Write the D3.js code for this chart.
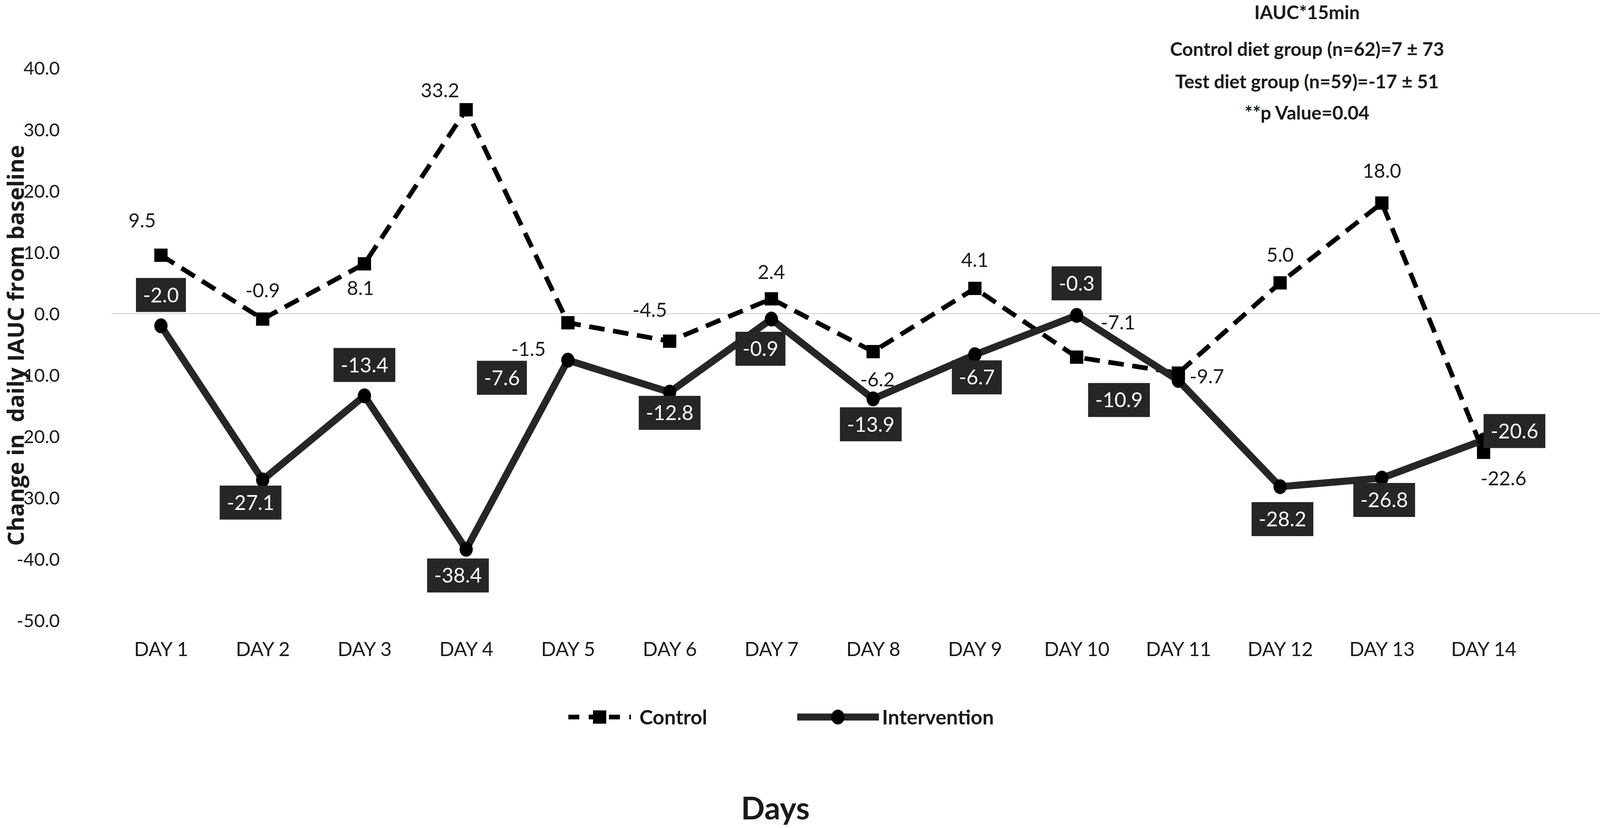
<!DOCTYPE html>
<html>
<head>
<meta charset="utf-8">
<script src="https://cdn.jsdelivr.net/npm/d3@7"></script>
<style>
  html, body { margin: 0; padding: 0; background: #fff; }
  svg { display: block; }
</style>
</head>
<body>
<svg id="chart" width="4200" height="2119"></svg>
<script>
// ---------- data ----------
const days = ["DAY 1","DAY 2","DAY 3","DAY 4","DAY 5","DAY 6","DAY 7","DAY 8","DAY 9","DAY 10","DAY 11","DAY 12","DAY 13","DAY 14"];
const controlValues = [9.5, -0.9, 8.1, 33.2, -1.5, -4.5, 2.4, -6.2, 4.1, -7.1, -9.7, 5.0, 18.0, -22.6];
const interventionValues = [-2.0, -27.1, -13.4, -38.4, -7.6, -12.8, -0.9, -13.9, -6.7, -0.3, -10.9, -28.2, -26.8, -20.6];
const yTickValues = [40, 30, 20, 10, 0, -10, -20, -30, -40, -50];
const seriesNames = ["Control", "Intervention"];
const yAxisTitle = "Change in\u00a0 daily IAUC from baseline";
const xAxisTitle = "Days";
const annotationLines = ["IAUC*15min", "Control diet group (n=62)=7 \u00b1 73", "Test diet group (n=59)=-17 \u00b1 51", "**p Value=0.04"];

// ---------- layout (label placement offsets, px) ----------
const controlLabelOffsets = [[-48,-89],[0,-74],[-10,62],[-67,-50],[-101,67],[-51,-80],[0,-69],[11,71],[0,-73],[106,-89],[73,8],[0,-72],[0,-83],[51,66]];
const interventionLabelOffsets = [[0,-79],[-31,58],[0,-79],[-21,67],[-169,45],[0,53],[-28,76],[-6,65],[5,58],[0,-82],[-152,50],[6,83],[6,56],[79,-23]];

const FONT = "Lato, 'Liberation Sans', sans-serif";
const TEXT = "#1a1a1a";
const DARK = "#262626";

const svg = d3.select("#chart");
svg.append("rect").attr("width", 4200).attr("height", 2119).attr("fill", "#fff");

const x = d3.scalePoint().domain(days).range([412, 3798]);
const y = d3.scaleLinear().domain([-50, 40]).range([1588, 174]);

// zero gridline
svg.append("line")
  .attr("x1", 286).attr("x2", 4190)
  .attr("y1", y(0)).attr("y2", y(0))
  .attr("stroke", "#d9d9d9").attr("stroke-width", 3);

// y axis
const yAxis = svg.append("g")
  .attr("transform", "translate(153,0)")
  .call(d3.axisLeft(y).tickValues(yTickValues).tickSize(0).tickPadding(0).tickFormat(d => d.toFixed(1)));
yAxis.select(".domain").remove();
yAxis.selectAll("text")
  .attr("font-family", FONT).attr("font-size", 47).attr("fill", TEXT)
  .attr("dy", "0.36em");

// x axis
const xAxis = svg.append("g")
  .attr("transform", "translate(0,1661)")
  .call(d3.axisBottom(x).tickSize(0).tickPadding(0));
xAxis.select(".domain").remove();
xAxis.selectAll("text")
  .attr("font-family", FONT).attr("font-size", 50).attr("fill", TEXT)
  .attr("dy", "0.36em");

// lines
const line = d3.line().x((d, i) => x(days[i])).y(d => y(d));

svg.append("path")
  .datum(controlValues)
  .attr("d", line)
  .attr("fill", "none")
  .attr("stroke", "#000")
  .attr("stroke-width", 12)
  .attr("stroke-dasharray", "40 22")
  .attr("stroke-linejoin", "round");

svg.append("path")
  .datum(interventionValues)
  .attr("d", line)
  .attr("fill", "none")
  .attr("stroke", DARK)
  .attr("stroke-width", 18)
  .attr("stroke-linejoin", "round");

// markers
const sq = 34;
svg.append("g").selectAll("rect")
  .data(controlValues)
  .join("rect")
  .attr("x", (d, i) => x(days[i]) - sq / 2)
  .attr("y", d => y(d) - sq / 2)
  .attr("width", sq).attr("height", sq)
  .attr("fill", "#000");

svg.append("g").selectAll("ellipse")
  .data(interventionValues)
  .join("ellipse")
  .attr("cx", (d, i) => x(days[i]))
  .attr("cy", d => y(d))
  .attr("rx", 17).attr("ry", 19)
  .attr("fill", "#000");

// control labels (plain)
svg.append("g").selectAll("text")
  .data(controlValues)
  .join("text")
  .attr("x", (d, i) => x(days[i]) + controlLabelOffsets[i][0])
  .attr("y", (d, i) => y(d) + controlLabelOffsets[i][1])
  .attr("dy", "0.36em")
  .attr("text-anchor", "middle")
  .attr("font-family", FONT).attr("font-size", 50).attr("fill", TEXT)
  .text(d => d.toFixed(1));

// intervention labels (dark boxes)
const ig = svg.append("g").selectAll("g")
  .data(interventionValues)
  .join("g")
  .attr("transform", (d, i) => `translate(${x(days[i]) + interventionLabelOffsets[i][0]},${y(d) + interventionLabelOffsets[i][1]})`);
ig.append("rect").attr("fill", DARK);
ig.append("text")
  .attr("text-anchor", "middle")
  .attr("dy", "0.36em")
  .attr("font-family", FONT).attr("font-size", 52).attr("fill", "#fff")
  .text(d => d.toFixed(1));
ig.each(function () {
  const g = d3.select(this);
  const w = g.select("text").node().getComputedTextLength() + 36;
  const h = 87;
  g.select("rect").attr("x", -w / 2).attr("y", -h / 2).attr("width", w).attr("height", h);
});

// legend
const lg = svg.append("g");
lg.append("line").attr("x1", 1455).attr("x2", 1615).attr("y1", 1835).attr("y2", 1835)
  .attr("stroke", "#000").attr("stroke-width", 12).attr("stroke-dasharray", "28 24");
lg.append("rect").attr("x", 1535 - sq / 2).attr("y", 1835 - sq / 2).attr("width", sq).attr("height", sq).attr("fill", "#000");
lg.append("text").attr("x", 1637).attr("y", 1835).attr("dy", "0.36em")
  .attr("font-family", FONT).attr("font-weight", "bold").attr("font-size", 52).attr("fill", TEXT)
  .text(seriesNames[0]);
lg.append("line").attr("x1", 2041).attr("x2", 2250).attr("y1", 1835).attr("y2", 1835)
  .attr("stroke", DARK).attr("stroke-width", 18);
lg.append("ellipse").attr("cx", 2145).attr("cy", 1835).attr("rx", 17).attr("ry", 19).attr("fill", "#000");
lg.append("text").attr("x", 2258).attr("y", 1835).attr("dy", "0.36em")
  .attr("font-family", FONT).attr("font-weight", "bold").attr("font-size", 52).attr("fill", TEXT)
  .text(seriesNames[1]);

// axis titles
svg.append("text")
  .attr("x", 1985).attr("y", 2068).attr("dy", "0.36em")
  .attr("text-anchor", "middle")
  .attr("font-family", FONT).attr("font-weight", "bold").attr("font-size", 80).attr("fill", TEXT)
  .text(xAxisTitle);

svg.append("text")
  .attr("transform", "translate(40,884) rotate(-90)")
  .attr("dy", "0.36em")
  .attr("text-anchor", "middle")
  .attr("font-family", "'Open Sans', 'DejaVu Sans', sans-serif").attr("font-weight", "bold").attr("font-size", 58).attr("fill", TEXT)
  .text(yAxisTitle);

// annotation
const annY = [32, 126, 209, 289];
svg.append("g").selectAll("text")
  .data(annotationLines)
  .join("text")
  .attr("x", 3346)
  .attr("y", (d, i) => annY[i])
  .attr("dy", "0.36em")
  .attr("text-anchor", "middle")
  .attr("font-family", FONT).attr("font-weight", "bold").attr("font-size", 48).attr("fill", TEXT)
  .text(d => d);
</script>
</body>
</html>
